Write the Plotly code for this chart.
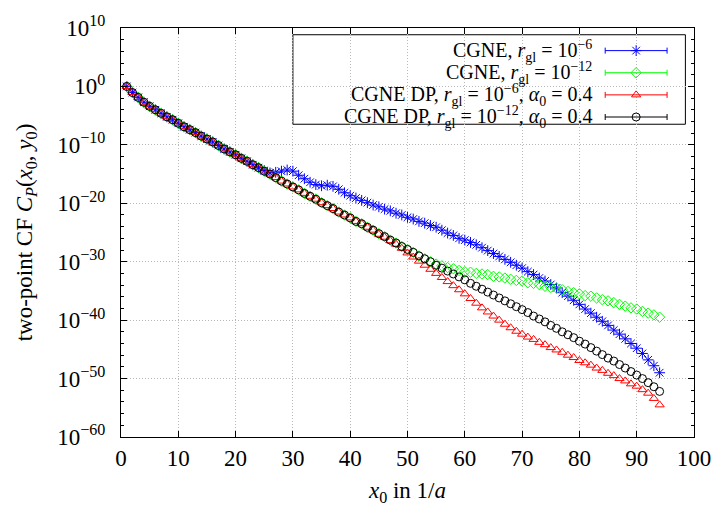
import plotly.graph_objects as go

# x positions (lattice distance x0 in 1/a)
x0 = list(range(1, 95))

# log10 of C_P(x0, y0)
log_cgne_6 = [0, -1.05, -1.87, -2.7, -3.4, -4.0, -4.6, -5.2, -5.7, -6.3,
              -6.9, -7.4, -7.9, -8.5, -9.0, -9.5, -10.1, -10.7, -11.2, -11.7,
              -12.3, -12.8, -13.4, -13.9, -14.4, -14.8, -14.7, -14.5, -14.3, -14.5,
              -15.2, -15.8, -16.4, -16.8, -17.0, -16.9, -17.1, -17.6, -18.2, -18.7,
              -19.1, -19.5, -19.9, -20.3, -20.6, -21.0, -21.3, -21.7, -22.0, -22.4,
              -22.7, -23.1, -23.4, -23.8, -24.1, -24.6, -25.1, -25.5, -26.0, -26.3,
              -26.7, -27.1, -27.6, -28.1, -28.6, -29.1, -29.6, -30.1, -30.6, -31.1,
              -31.7, -32.2, -32.8, -33.3, -33.9, -34.5, -35.3, -35.9, -36.6, -37.3,
              -38.1, -38.8, -39.5, -40.2, -40.9, -41.7, -42.4, -43.2, -44.0, -44.8,
              -45.7, -46.8, -47.8, -49.0]

log_cgne_12 = [0, -1.05, -1.87, -2.7, -3.4, -4.0, -4.6, -5.2, -5.7, -6.3,
               -6.9, -7.4, -7.9, -8.5, -9.0, -9.5, -10.1, -10.7, -11.2, -11.7,
               -12.3, -12.8, -13.4, -13.9, -14.5, -15.0, -15.6, -16.2, -16.7, -17.2,
               -17.7, -18.3, -18.8, -19.3, -19.9, -20.4, -20.9, -21.5, -22.0, -22.5,
               -23.1, -23.5, -24.1, -24.6, -25.2, -25.7, -26.3, -26.8, -27.4, -27.9,
               -28.4, -29.0, -29.5, -30.0, -30.4, -30.7, -31.0, -31.2, -31.5, -31.7,
               -31.8, -32.0, -32.1, -32.2, -32.5, -32.6, -32.8, -33.0, -33.2, -33.3,
               -33.6, -33.7, -33.9, -34.2, -34.4, -34.5, -34.8, -35.1, -35.3, -35.5,
               -35.8, -35.9, -36.2, -36.5, -36.7, -37.0, -37.3, -37.6, -37.9, -38.1,
               -38.5, -38.8, -39.1, -39.5]

log_dp_6 = [0, -1.05, -1.87, -2.7, -3.4, -4.0, -4.6, -5.2, -5.7, -6.3,
            -6.9, -7.4, -7.9, -8.5, -9.0, -9.5, -10.1, -10.7, -11.2, -11.7,
            -12.3, -12.8, -13.4, -13.9, -14.5, -15.0, -15.6, -16.2, -16.7, -17.2,
            -17.7, -18.3, -18.8, -19.3, -19.9, -20.4, -20.9, -21.5, -22.0, -22.5,
            -23.1, -23.5, -24.1, -24.6, -25.3, -25.8, -26.4, -27.0, -27.7, -28.5,
            -29.2, -29.9, -30.6, -31.3, -32.0, -32.7, -33.4, -34.1, -34.8, -35.5,
            -36.3, -37.1, -37.9, -38.6, -39.3, -40.0, -40.7, -41.3, -41.9, -42.4,
            -42.9, -43.3, -43.8, -44.2, -44.7, -45.1, -45.5, -46.0, -46.4, -46.9,
            -47.3, -47.7, -48.2, -48.6, -49.1, -49.5, -50.0, -50.4, -50.9, -51.3,
            -51.9, -52.5, -53.4, -54.5]

log_dp_12 = [0, -1.05, -1.87, -2.7, -3.4, -4.0, -4.6, -5.2, -5.7, -6.3,
             -6.9, -7.4, -7.9, -8.5, -9.0, -9.5, -10.1, -10.7, -11.2, -11.7,
             -12.3, -12.8, -13.4, -13.9, -14.5, -15.0, -15.6, -16.2, -16.7, -17.2,
             -17.7, -18.3, -18.8, -19.3, -19.9, -20.4, -20.9, -21.5, -22.0, -22.5,
             -23.1, -23.5, -24.1, -24.6, -25.2, -25.7, -26.3, -26.8, -27.4, -27.9,
             -28.4, -29.0, -29.5, -30.0, -30.6, -31.1, -31.6, -32.1, -32.6, -33.1,
             -33.7, -34.2, -34.7, -35.2, -35.7, -36.2, -36.7, -37.2, -37.7, -38.2,
             -38.7, -39.3, -39.8, -40.3, -40.9, -41.4, -42.0, -42.5, -43.0, -43.6,
             -44.1, -44.7, -45.3, -45.9, -46.5, -47.0, -47.6, -48.2, -48.8, -49.4,
             -50.0, -50.7, -51.4, -52.2]

series_names = [
    "CGNE, <i>r</i><sub>gl</sub> = 10<sup>−6</sup>",
    "CGNE, <i>r</i><sub>gl</sub> = 10<sup>−12</sup>",
    "CGNE DP, <i>r</i><sub>gl</sub> = 10<sup>−6</sup>, <i>α</i><sub>0</sub> = 0.4",
    "CGNE DP, <i>r</i><sub>gl</sub> = 10<sup>−12</sup>, <i>α</i><sub>0</sub> = 0.4",
]
series_logs = [log_cgne_6, log_cgne_12, log_dp_6, log_dp_12]
series_colors = ["#0000ff", "#00ff00", "#ff0000", "#000000"]
series_symbols = ["asterisk-open", "diamond-open", "triangle-up-open", "circle-open"]
series_sizes = [9, 8, 8, 8]

y_exponents = [10, 0, -10, -20, -30, -40, -50, -60]
y_minor_exponents = list(range(-60, 11, 2))
x_ticks = [0, 10, 20, 30, 40, 50, 60, 70, 80, 90, 100]

FONT = "Liberation Serif"
FS_TICK = 23
FS_TITLE = 23
FS_LEG = 20

fig = go.Figure()
for name, lg, col, sym, sz in zip(series_names, series_logs, series_colors,
                                  series_symbols, series_sizes):
    fig.add_trace(go.Scatter(
        x=x0, y=[10 ** v for v in lg], mode="markers", name=name,
        marker=dict(symbol=sym, size=sz, color=col, line=dict(color=col, width=1)),
        showlegend=False,
    ))

# hand-built legend (text on the left, error-bar sample on the right)
leg_rows = [0.9447, 0.8906, 0.8365, 0.7824]
leg_text_x = 0.826
leg_sample_x = 0.899
leg_half = 0.054
for name, col, sym, sz, yy in zip(series_names, series_colors, series_symbols,
                                   series_sizes, leg_rows):
    fig.add_trace(go.Scatter(
        x=[leg_sample_x], y=[yy], xaxis="x2", yaxis="y2", mode="markers",
        marker=dict(symbol=sym, size=sz, color=col, line=dict(color=col, width=1)),
        error_x=dict(type="data", array=[leg_half], symmetric=True, width=3,
                     thickness=1, color=col),
        showlegend=False, hoverinfo="skip",
    ))
    fig.add_annotation(x=leg_text_x, y=yy, xref="paper", yref="paper",
                       text=name, showarrow=False, xanchor="right", yanchor="middle",
                       font=dict(family=FONT, size=FS_LEG, color="black"))

fig.add_shape(type="rect", xref="paper", yref="paper", x0=0.300, x1=0.985,
              y0=0.7647, y1=0.9835, line=dict(color="black", width=1),
              fillcolor="white", layer="between")

axis_common = dict(showline=True, linecolor="black", linewidth=1, mirror="allticks",
                   ticks="inside", ticklen=6, tickcolor="black", zeroline=False,
                   showgrid=True, gridcolor="#b8b8b8", griddash="1px,2px", gridwidth=1,
                   ticklabeloverflow="allow",
                   tickfont=dict(family=FONT, size=FS_TICK, color="black"))

fig.update_layout(
    width=723, height=511,
    margin=dict(l=121, r=19, t=15, b=71),
    paper_bgcolor="white", plot_bgcolor="white",
    font=dict(family=FONT, size=FS_TICK, color="black"),
    xaxis=dict(range=[0, 100], tickvals=x_ticks, ticklabelstandoff=0,
               title=dict(text="<i>x</i><sub>0</sub> in 1/<i>a</i>", standoff=12,
                          font=dict(family=FONT, size=FS_TITLE)),
               **axis_common),
    yaxis=dict(type="log", range=[-60.0005, 10.0005],
               tickvals=[10.0 ** e for e in y_exponents],
               ticktext=["10<sup>%s</sup>" % (str(e).replace("-", "−")) for e in y_exponents],
               ticklabelstandoff=10,
               minor=dict(tickvals=[10.0 ** e for e in y_minor_exponents],
                          ticks="inside", ticklen=3, tickcolor="black", showgrid=False),
               title=dict(text="two-point CF <i>C</i><sub><i>P</i></sub>(<i>x</i><sub>0</sub>, <i>y</i><sub>0</sub>)",
                          standoff=18, font=dict(family=FONT, size=FS_TITLE)),
               **axis_common),
    xaxis2=dict(overlaying="x", range=[0, 1], visible=False, fixedrange=True),
    yaxis2=dict(overlaying="y", range=[0, 1], visible=False, fixedrange=True),
)

fig.write_html("out.html")
